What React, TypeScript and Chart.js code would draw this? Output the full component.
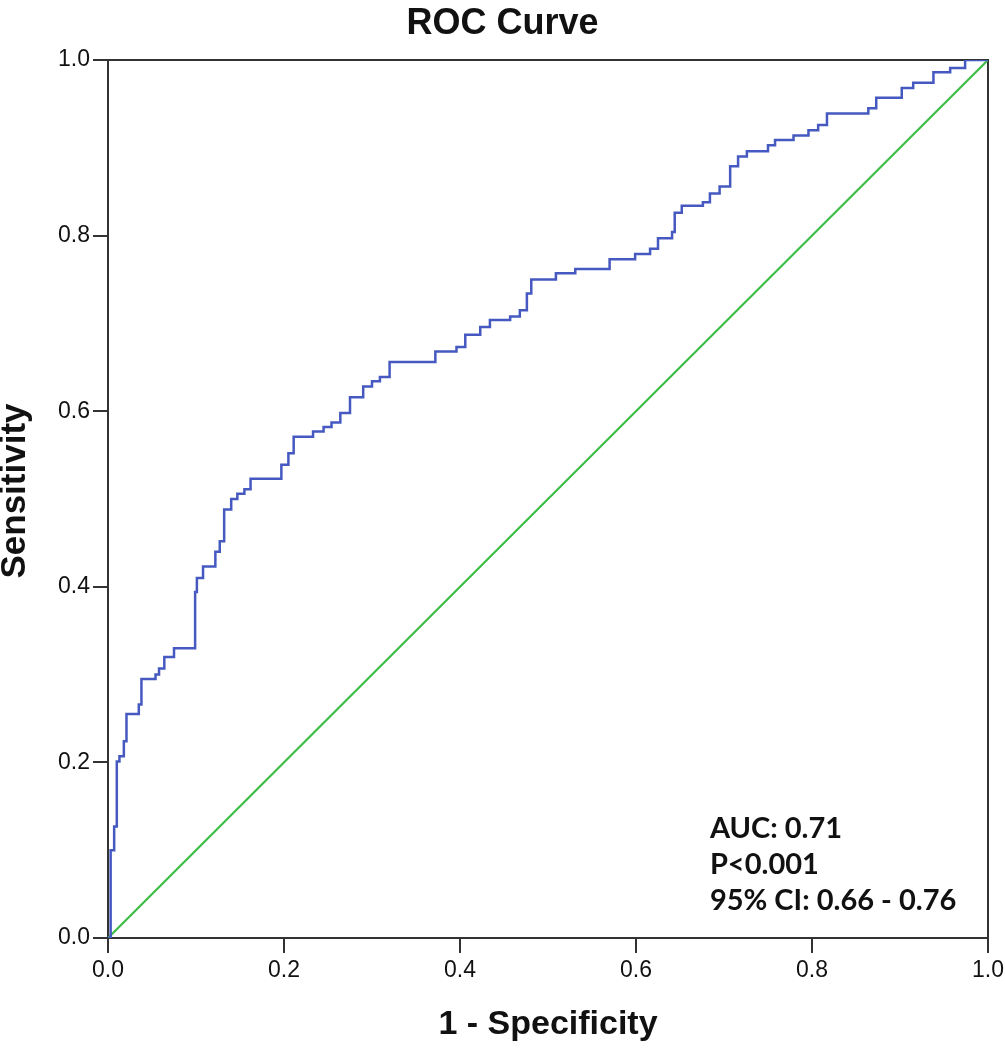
import React, { useEffect, useRef } from "react";
import { Chart, registerables } from "chart.js";

Chart.register(...registerables);

// ROC curve corner points (1 - specificity, sensitivity)
const fpr = [
  0, 0.003, 0.007, 0.010, 0.013, 0.018, 0.021, 0.035, 0.038, 0.054, 0.058, 0.064, 0.075,
  0.099, 0.101, 0.108, 0.122, 0.127, 0.132, 0.140, 0.147, 0.155, 0.162, 0.197, 0.205,
  0.211, 0.233, 0.245, 0.254, 0.264, 0.275, 0.290, 0.300, 0.309, 0.320, 0.372, 0.396,
  0.406, 0.423, 0.434, 0.457, 0.468, 0.476, 0.481, 0.509, 0.531, 0.570, 0.599, 0.616,
  0.625, 0.641, 0.644, 0.652, 0.676, 0.684, 0.695, 0.707, 0.716, 0.726, 0.750, 0.758,
  0.779, 0.796, 0.807, 0.817, 0.864, 0.873, 0.902, 0.915, 0.938, 0.957, 0.974, 1.0,
];
const tpr = [
  0, 0.100, 0.127, 0.201, 0.207, 0.224, 0.255, 0.266, 0.295, 0.300, 0.307, 0.320, 0.330,
  0.394, 0.410, 0.423, 0.440, 0.452, 0.488, 0.500, 0.506, 0.511, 0.523, 0.539, 0.552,
  0.571, 0.577, 0.582, 0.587, 0.598, 0.616, 0.628, 0.634, 0.639, 0.656, 0.668, 0.673,
  0.687, 0.696, 0.704, 0.708, 0.715, 0.734, 0.750, 0.757, 0.762, 0.773, 0.779, 0.785,
  0.797, 0.804, 0.826, 0.834, 0.838, 0.848, 0.856, 0.879, 0.890, 0.896, 0.903, 0.909,
  0.914, 0.920, 0.926, 0.939, 0.945, 0.957, 0.968, 0.974, 0.986, 0.991, 1.000, 1.0,
];

// Reference line
const refX = [0, 1];
const refY = [0, 1];

const tickValues = [0, 0.2, 0.4, 0.6, 0.8, 1.0];

const annotationLines = ["AUC: 0.71", "P<0.001", "95% CI: 0.66 - 0.76"];

const TITLE = "ROC Curve";
const X_TITLE = "1 - Specificity";
const Y_TITLE = "Sensitivity";

const AXIS_COLOR = "#333333";
const TEXT_COLOR = "#111111";
const SANS = "'Liberation Sans', Arial, sans-serif";

const framePlugin = {
  id: "frame",
  beforeDatasetsDraw(chart: any) {
    const { ctx, chartArea } = chart;
    ctx.save();
    ctx.strokeStyle = AXIS_COLOR;
    ctx.lineWidth = 2;
    ctx.strokeRect(chartArea.left, chartArea.top, chartArea.right - chartArea.left, chartArea.bottom - chartArea.top);
    ctx.restore();
  },
};

const yTitlePlugin = {
  id: "yTitle",
  afterDraw(chart: any) {
    const { ctx, chartArea } = chart;
    const cy = (chartArea.top + chartArea.bottom) / 2 - 8;
    ctx.save();
    ctx.translate(15, cy);
    ctx.rotate(-Math.PI / 2);
    ctx.fillStyle = TEXT_COLOR;
    ctx.font = `bold 35px ${SANS}`;
    ctx.textAlign = "center";
    ctx.textBaseline = "middle";
    ctx.fillText(Y_TITLE, 0, 0);
    ctx.restore();
  },
};

const annotationPlugin = {
  id: "aucText",
  afterDatasetsDraw(chart: any) {
    const { ctx, scales } = chart;
    const x = scales.x.getPixelForValue(0.684);
    const y0 = scales.y.getPixelForValue(0.114);
    const step = scales.y.getPixelForValue(0) - scales.y.getPixelForValue(0.041);
    ctx.save();
    ctx.fillStyle = TEXT_COLOR;
    ctx.font = "bold 29px Lato";
    ctx.textAlign = "left";
    ctx.textBaseline = "alphabetic";
    annotationLines.forEach((line, i) => {
      ctx.fillText(line, x, y0 + i * step);
    });
    ctx.restore();
  },
};

export default function App() {
  const canvasRef = useRef<HTMLCanvasElement | null>(null);

  useEffect(() => {
    document.body.style.margin = "0";
    const canvas = canvasRef.current;
    if (!canvas) return;
    const rocData = fpr.map((x, i) => ({ x, y: tpr[i] }));
    const refData = refX.map((x, i) => ({ x, y: refY[i] }));

    const axisCommon = (isX: boolean) => ({
      type: "linear" as const,
      min: 0,
      max: 1,
      afterBuildTicks: (scale: any) => {
        scale.ticks = tickValues.map((v) => ({ value: v }));
      },
      ticks: {
        color: TEXT_COLOR,
        font: { family: SANS, size: 23 },
        padding: isX ? 4 : 3,
        maxRotation: 0,
        callback: (v: any) => Number(v).toFixed(1),
      },
      grid: {
        display: true,
        drawOnChartArea: false,
        drawTicks: true,
        tickLength: 15,
        color: AXIS_COLOR,
        lineWidth: 2,
      },
      border: { display: true, color: AXIS_COLOR, width: 2 },
    });

    const chart = new Chart(canvas, {
      type: "line",
      data: {
        datasets: [
          {
            label: "ROC",
            data: rocData,
            borderColor: "#4659c0",
            borderWidth: 2.5,
            pointRadius: 0,
            stepped: "before",
            fill: false,
            tension: 0,
          },
          {
            label: "Reference",
            data: refData,
            borderColor: "#3cbe46",
            borderWidth: 2.2,
            pointRadius: 0,
            fill: false,
            tension: 0,
          },
        ],
      },
      options: {
        animation: false,
        responsive: false,
        devicePixelRatio: 1,
        layout: { padding: { left: 0, right: 0, top: 0, bottom: 0 } },
        plugins: {
          legend: { display: false },
          tooltip: { enabled: false },
          title: {
            display: true,
            text: TITLE,
            color: TEXT_COLOR,
            font: { family: SANS, size: 36, weight: "bold", lineHeight: 1.2 },
            padding: { top: 2, bottom: 14.8 },
          },
        },
        scales: {
          x: {
            ...axisCommon(true),
            afterFit: (scale: any) => {
              scale.height = 112;
              scale.paddingRight = 17;
            },
            title: {
              display: true,
              text: X_TITLE,
              color: TEXT_COLOR,
              font: { family: SANS, size: 34, weight: "bold", lineHeight: 1.2 },
              padding: { top: 17, bottom: 5 },
            },
          },
          y: {
            ...axisCommon(false),
            afterFit: (scale: any) => {
              scale.width = 108;
            },
            title: { display: false },
          },
        },
      },
      plugins: [framePlugin, annotationPlugin, yTitlePlugin],
    });

    return () => {
      chart.destroy();
    };
  }, []);

  return (
    <div style={{ width: 1005, height: 1050 }}>
      <canvas ref={canvasRef} width={1005} height={1050} style={{ display: "block" }} />
    </div>
  );
}
